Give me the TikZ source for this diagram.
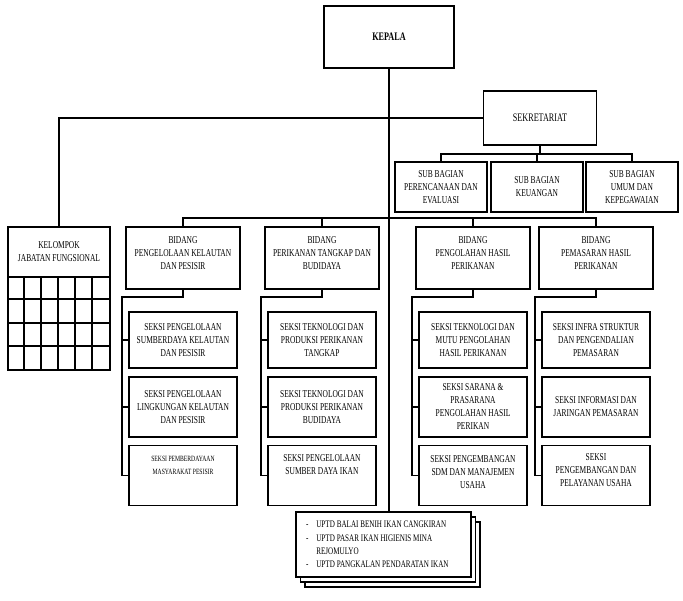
\documentclass[tikz,border=0pt]{standalone}
\usepackage{fontspec}
\setmainfont[FakeStretch=0.71]{Liberation Serif}
\usetikzlibrary{chains,positioning,shadows}

\begin{document}
\begin{tikzpicture}[x=1pt,y=-1pt,box/.style={draw,line width=1.8pt,
    align=center,inner sep=1pt,font=\fontsize{10.5}{13}\selectfont},
    bid/.style={box,minimum width=114,minimum height=62,text depth=10pt},
    sek/.style={box,minimum width=108,minimum height=60},
    sub/.style={box,minimum width=92,minimum height=50},
    lnk/.style={line width=1.8pt}]
  \useasboundingbox (0,0) rectangle (683,600);
  \node[box,minimum width=130,minimum height=62,
    font=\fontsize{11.5}{13}\selectfont\bfseries](kepala) at (389,37){KEPALA};
  \node[box,minimum width=113,minimum height=54,
    font=\fontsize{11.5}{13}\selectfont](sekre) at (540,118){SEKRETARIAT};
  \node[sub](sub1) at (441,187){SUB BAGIAN\\PERENCANAAN DAN\\EVALUASI};
  \node[sub](sub2) at (537,187){SUB BAGIAN\\KEUANGAN};
  \node[sub](sub3) at (632,187){SUB BAGIAN\\UMUM DAN\\KEPEGAWAIAN};
  \node[box,minimum width=102,minimum height=50](kel) at (59,252)
    {KELOMPOK\\JABATAN FUNGSIONAL};
  \node[draw,line width=1.8pt,minimum width=102,minimum height=93,
    below=-1.8pt of kel](kgrid){};
  \foreach \i in {1,...,5}
    \draw[lnk] ([xshift=17*\i]kgrid.north west) -- ([xshift=17*\i]kgrid.south west);
  \foreach \j in {1,2,3}
    \draw[lnk] ([yshift=-23.25*\j]kgrid.north west) -- ([yshift=-23.25*\j]kgrid.north east);
  \begin{scope}[node distance=7pt,oc/.style={on chain}]
   \begin{scope}[start chain=C1 going below]
    \node[bid,oc] at (183,258){BIDANG\\PENGELOLAAN KELAUTAN\\DAN PESISIR};
    \node[sek,oc,below=21pt of C1-1,minimum height=56]
      {SEKSI PENGELOLAAN\\SUMBERDAYA KELAUTAN\\DAN PESISIR};
    \node[sek,oc]{SEKSI PENGELOLAAN\\LINGKUNGAN KELAUTAN\\DAN PESISIR};
    \node[sek,oc,font=\fontsize{8}{13}\selectfont,text depth=21pt]
      {SEKSI PEMBERDAYAAN\\MASYARAKAT PESISIR};
   \end{scope}
   \begin{scope}[start chain=C2 going below]
    \node[bid,oc] at (322,258){BIDANG\\PERIKANAN TANGKAP DAN\\BUDIDAYA};
    \node[sek,oc,below=21pt of C2-1,minimum height=56]
      {SEKSI TEKNOLOGI DAN\\PRODUKSI PERIKANAN\\TANGKAP};
    \node[sek,oc]{SEKSI TEKNOLOGI DAN\\PRODUKSI PERIKANAN\\BUDIDAYA};
    \node[sek,oc,text depth=21pt]{SEKSI PENGELOLAAN\\SUMBER DAYA IKAN};
   \end{scope}
   \begin{scope}[start chain=C3 going below]
    \node[bid,oc] at (473,258){BIDANG\\PENGOLAHAN HASIL\\PERIKANAN};
    \node[sek,oc,below=21pt of C3-1,minimum height=56]
      {SEKSI TEKNOLOGI DAN\\MUTU PENGOLAHAN\\HASIL PERIKANAN};
    \node[sek,oc]{SEKSI SARANA \&\\PRASARANA\\PENGOLAHAN HASIL\\PERIKAN};
    \node[sek,oc,text depth=6pt]{SEKSI PENGEMBANGAN\\SDM DAN MANAJEMEN\\USAHA};
   \end{scope}
   \begin{scope}[start chain=C4 going below]
    \node[bid,oc] at (596,258){BIDANG\\PEMASARAN HASIL\\PERIKANAN};
    \node[sek,oc,below=21pt of C4-1,minimum height=56]
      {SEKSI INFRA STRUKTUR\\DAN PENGENDALIAN\\PEMASARAN};
    \node[sek,oc]{SEKSI INFORMASI DAN\\JARINGAN PEMASARAN};
    \node[sek,oc,text depth=10pt]{SEKSI\\PENGEMBANGAN DAN\\PELAYANAN USAHA};
   \end{scope}
  \end{scope}
  \node[draw,line width=1.8pt,fill=white,minimum height=65,text width=155,
    inner xsep=10pt,align=left,font=\fontsize{10}{13}\selectfont,
    copy shadow={shadow xshift=9pt,shadow yshift=-10pt,draw,fill=white,
      line width=1.8pt},
    copy shadow={shadow xshift=4.5pt,shadow yshift=-5pt,draw,fill=white,
      line width=1.8pt}](uptd) at (383.5,544.5)
    {\spaceskip=1.9pt plus 1pt\relax
     \begin{tabular}{@{}l@{\hspace{8pt}}l@{}}
     -&UPTD BALAI BENIH IKAN CANGKIRAN\\[1pt]
     -&UPTD PASAR IKAN HIGIENIS MINA\\
      &REJOMULYO\\
     -&UPTD PANGKALAN PENDARATAN IKAN\end{tabular}};
  \draw[lnk] (kepala.south) -- (kepala.south |- uptd.north);
  \draw[lnk] (sekre.west) -| (kel.north);
  \draw[lnk] (sekre.south) -- ++(0,8) coordinate(sb);
  \draw[lnk] (sub1.north) -- (sub1.north |- sb) -- (sub3.north |- sb) -- (sub3.north);
  \draw[lnk] (sub2.north) -- (sub2.north |- sb);
  \draw[lnk] (C1-1.north) -- ++(0,-8) coordinate(bus) -- (C4-1.north |- bus)
    -- (C4-1.north);
  \draw[lnk] (C2-1.north) -- (C2-1.north |- bus);
  \draw[lnk] (C3-1.north) -- (C3-1.north |- bus);
  \foreach \c in {1,...,4}{
    \draw[lnk] (C\c-1.south) -- ++(0,7) -| ([xshift=-6pt]C\c-4.west) -- (C\c-4.west);
    \foreach \s in {2,3}
      \draw[lnk] ([xshift=-6pt]C\c-\s.west) -- (C\c-\s.west);
  }
\end{tikzpicture}
\end{document}
